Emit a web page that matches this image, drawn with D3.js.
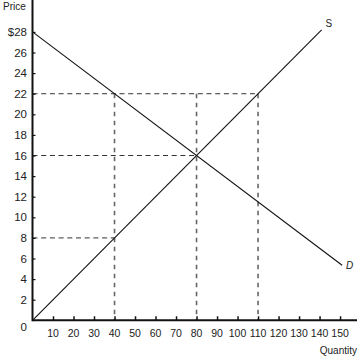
<!DOCTYPE html>
<html><head><meta charset="utf-8">
<script src="https://cdn.jsdelivr.net/npm/d3@7"></script>
<style>body{margin:0;background:#fff}svg{display:block}text{font-family:"Liberation Sans",Arial,sans-serif;fill:#222}</style>
</head><body>
<script>
const xTicks = [10,20,30,40,50,60,70,80,90,100,110,120,130,140,150];
const yTicks = [2,4,6,8,10,12,14,16,18,20,22,24,26,28];
const supply = [[0,0],[141,28.2]];
const demand = [[0,28],[151,5.35]];
const hDashes = [[22,110],[16,80],[8,40]]; // price, quantity
const vDashes = [[40,22],[80,22],[110,22]]; // quantity, top price

const W=363,H=357;
const svg=d3.select("body").append("svg").attr("width",W).attr("height",H);
const x=d3.scaleLinear().domain([0,158.5]).range([32.5,357.5]);
const y=d3.scaleLinear().domain([0,31.1]).range([320.3,0]);
const line=d3.line().x(d=>x(d[0])).y(d=>y(d[1]));

// dashed
hDashes.forEach(([p,q])=>svg.append("line").attr("x1",x(0)).attr("x2",x(q)).attr("y1",y(p)).attr("y2",y(p))
  .attr("stroke","#333").attr("stroke-width",1).attr("stroke-dasharray","5,3.7"));
vDashes.forEach(([q,p])=>svg.append("line").attr("x1",x(q)).attr("x2",x(q)).attr("y1",y(p)).attr("y2",y(0))
  .attr("stroke","#666").attr("stroke-width",1.6).attr("stroke-dasharray","4.5,4.5"));

svg.append("path").attr("d",line(supply)).attr("fill","none").attr("stroke","#111").attr("stroke-width",1.1);
svg.append("path").attr("d",line(demand)).attr("fill","none").attr("stroke","#111").attr("stroke-width",1.1);

// axes
const xa=svg.append("g").attr("transform",`translate(0,${y(0)})`)
  .call(d3.axisTop(x).tickValues(xTicks).tickSize(4).tickFormat(""));
xa.select(".domain").remove();
xa.selectAll("line").attr("stroke","#111").attr("stroke-width",1.5);
const ya=svg.append("g").attr("transform",`translate(${x(0)},0)`)
  .call(d3.axisRight(y).tickValues(yTicks).tickSize(3).tickFormat(""));
ya.select(".domain").remove();
ya.selectAll("line").attr("stroke","#111").attr("stroke-width",1.2);
svg.append("line").attr("x1",x(0)).attr("x2",357).attr("y1",y(0)).attr("y2",y(0)).attr("stroke","#111").attr("stroke-width",2);
svg.append("line").attr("x1",x(0)).attr("x2",x(0)).attr("y1",0).attr("y2",y(0)+1).attr("stroke","#111").attr("stroke-width",2);

// labels
svg.selectAll(".xl").data(xTicks).enter().append("text").attr("x",d=>x(d)).attr("y",337)
  .attr("text-anchor","middle").attr("font-size",10.5).text(d=>d);
svg.selectAll(".yl").data(yTicks).enter().append("text").attr("x",27).attr("y",d=>y(d)+4)
  .attr("text-anchor","end").attr("font-size",11.5).text(d=>d===28?"$28":d);
svg.append("text").attr("x",27).attr("y",331).attr("text-anchor","end").attr("font-size",11.5).text("0");
svg.append("text").attr("x",3).attr("y",10).attr("font-size",10).text("Price");
svg.append("text").attr("x",357).attr("y",354).attr("text-anchor","end").attr("font-size",10).text("Quantity");
svg.append("text").attr("x",x(141)+4).attr("y",y(28.2)-3).attr("font-size",10).text("S");
svg.append("text").attr("x",x(151)+4).attr("y",y(5.35)+4).attr("font-size",10).attr("font-style","italic").text("D");
</script>
</body></html>
